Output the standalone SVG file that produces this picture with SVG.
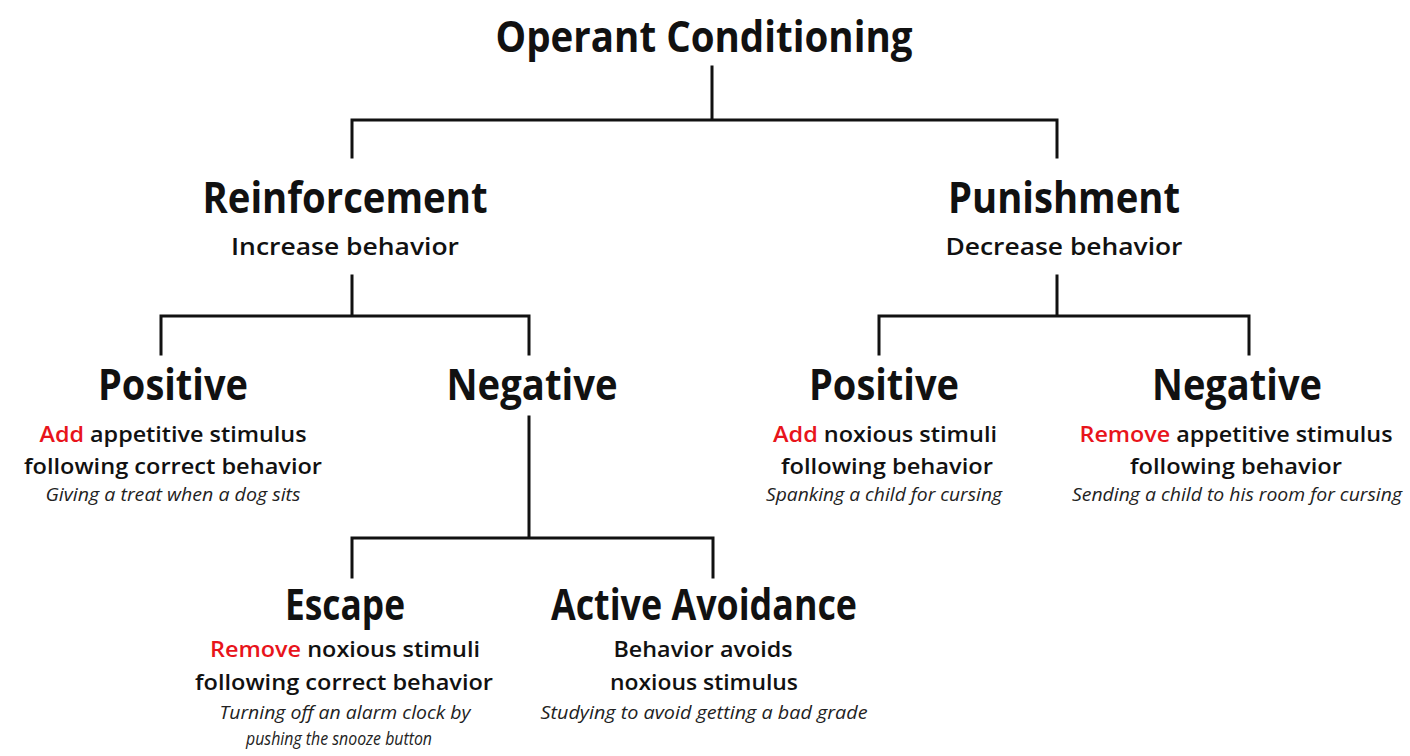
<svg xmlns="http://www.w3.org/2000/svg" width="1410" height="756" viewBox="0 0 1410 756">
<style>
text{font-family:"Open Sans","Noto Sans","Liberation Sans",sans-serif;fill:#111;text-anchor:middle}
.h{font-size:43px;font-weight:700}
.s{font-size:23px;font-weight:600}
.b{font-size:22px;font-weight:600}
.i{font-size:17.5px;font-style:italic;font-weight:400;fill:#222}
.r{fill:#e8141b}
.c{fill:none;stroke:#111;stroke-width:3;stroke-linecap:square}
</style>
<rect width="1410" height="756" fill="#fff"/>
<g id="connectors">
<path class="c" d="M712 67V120M352 120H1057M352 120V157M1057 120V157"/>
<path class="c" d="M352 276V316M161 316H529M161 316V354M529 316V354"/>
<path class="c" d="M1057 276V316M879 316H1249M879 316V354M1249 316V354"/>
<path class="c" d="M529 417V538M352 538H713M352 538V577M713 538V577"/>
</g>
<g id="operant">
<text class="h" x="704" y="52" textLength="417" lengthAdjust="spacingAndGlyphs">Operant Conditioning</text>
</g>
<g id="reinforcement">
<text class="h" x="345" y="213" textLength="285" lengthAdjust="spacingAndGlyphs">Reinforcement</text>
<text class="s" x="345" y="255" textLength="228" lengthAdjust="spacingAndGlyphs">Increase behavior</text>
</g>
<g id="punishment">
<text class="h" x="1064" y="213" textLength="232" lengthAdjust="spacingAndGlyphs">Punishment</text>
<text class="s" x="1064" y="255" textLength="237" lengthAdjust="spacingAndGlyphs">Decrease behavior</text>
</g>
<g id="reinf-positive">
<text class="h" x="173" y="400" textLength="150" lengthAdjust="spacingAndGlyphs">Positive</text>
<text class="b" x="173" y="442" textLength="267" lengthAdjust="spacingAndGlyphs"><tspan class="r">Add</tspan> appetitive stimulus</text>
<text class="b" x="173" y="474" textLength="298" lengthAdjust="spacingAndGlyphs">following correct behavior</text>
<text class="i" x="173" y="501" textLength="255" lengthAdjust="spacingAndGlyphs">Giving a treat when a dog sits</text>
</g>
<g id="reinf-negative">
<text class="h" x="532" y="400" textLength="171" lengthAdjust="spacingAndGlyphs">Negative</text>
</g>
<g id="pun-positive">
<text class="h" x="884" y="400" textLength="150" lengthAdjust="spacingAndGlyphs">Positive</text>
<text class="b" x="885" y="442" textLength="224" lengthAdjust="spacingAndGlyphs"><tspan class="r">Add</tspan> noxious stimuli</text>
<text class="b" x="887" y="474" textLength="212" lengthAdjust="spacingAndGlyphs">following behavior</text>
<text class="i" x="884" y="501" textLength="236" lengthAdjust="spacingAndGlyphs">Spanking a child for cursing</text>
</g>
<g id="pun-negative">
<text class="h" x="1237" y="400" textLength="170" lengthAdjust="spacingAndGlyphs">Negative</text>
<text class="b" x="1236" y="442" textLength="313" lengthAdjust="spacingAndGlyphs"><tspan class="r">Remove</tspan> appetitive stimulus</text>
<text class="b" x="1236" y="474" textLength="212" lengthAdjust="spacingAndGlyphs">following behavior</text>
<text class="i" x="1237" y="501" textLength="330" lengthAdjust="spacingAndGlyphs">Sending a child to his room for cursing</text>
</g>
<g id="escape">
<text class="h" x="345" y="620" textLength="120" lengthAdjust="spacingAndGlyphs">Escape</text>
<text class="b" x="345" y="657" textLength="270" lengthAdjust="spacingAndGlyphs"><tspan class="r">Remove</tspan> noxious stimuli</text>
<text class="b" x="344" y="690" textLength="298" lengthAdjust="spacingAndGlyphs">following correct behavior</text>
<text class="i" x="345" y="719" textLength="251" lengthAdjust="spacingAndGlyphs">Turning off an alarm clock by</text>
<text class="i" x="339" y="745" textLength="186" lengthAdjust="spacingAndGlyphs">pushing the snooze button</text>
</g>
<g id="active-avoidance">
<text class="h" x="704" y="620" textLength="306" lengthAdjust="spacingAndGlyphs">Active Avoidance</text>
<text class="b" x="703" y="657" textLength="179" lengthAdjust="spacingAndGlyphs">Behavior avoids</text>
<text class="b" x="704" y="690" textLength="188" lengthAdjust="spacingAndGlyphs">noxious stimulus</text>
<text class="i" x="704" y="719" textLength="327" lengthAdjust="spacingAndGlyphs">Studying to avoid getting a bad grade</text>
</g>
</svg>
